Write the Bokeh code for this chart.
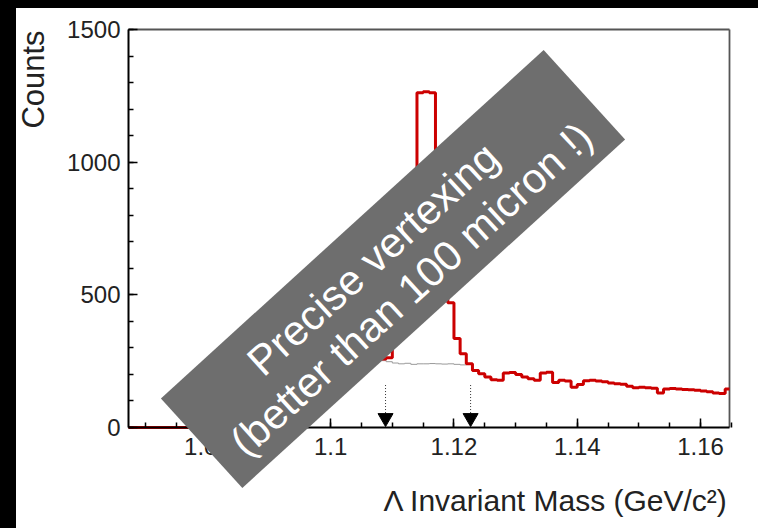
import math
import numpy as np
from bokeh.plotting import figure
from bokeh.models import (FixedTicker, CustomJSTickFormatter, Label,
                          PolyAnnotation, Range1d)
from bokeh.embed import file_html
from bokeh.resources import INLINE

# ---------------- data ----------------
bin_start = 1.067
bin_width = 0.001
counts = [
    0, 0, 0, 0, 0, 0, 0, 0, 0, 0,                      # 1.067-1.076
    0, 3, 15, 35, 55, 75, 95, 110, 125, 140,           # 1.077-1.086
    150, 160, 170, 180, 185, 195, 200, 205, 212, 218,  # 1.087-1.096
    222, 228, 232, 236, 240, 242, 245, 248, 250, 252,  # 1.097-1.106
    255, 258, 263, 350, 350, 500, 850, 1262, 1265, 1262,  # 1.107-1.116
    900, 650, 470, 335, 278, 240, 215, 203, 190, 180,  # 1.117-1.126
    178, 205, 207, 200, 190, 184, 178, 205, 208, 170,  # 1.127-1.136
    178, 175, 152, 162, 176, 178, 175, 172, 168, 165,  # 1.137-1.146
    163, 155, 150, 152, 150, 148, 130, 145, 147, 145,  # 1.147-1.156
    143, 142, 140, 138, 135, 130, 128, 145,            # 1.157-1.164
]

bg_start = 1.105
bg_counts = [250, 252, 255, 252, 248, 243, 240, 242, 238, 240,
             240, 241, 240, 239, 240, 238, 236]

arrow_x = [1.1089, 1.1227]
arrow_top = [160, 160]
arrow_bottom = [52, 52]
arrow_head = [36, 36]

x_lo, x_hi = 1.0672, 1.1647
y_lo, y_hi = 0, 1500
x_major = [1.08, 1.10, 1.12, 1.14, 1.16]
x_minor = [round(1.07 + 0.005 * i, 3) for i in range(20)]
y_major = [0, 500, 1000, 1500]
y_minor = list(range(0, 1501, 100))

x_title = "\u039b Invariant Mass (GeV/c\u00b2)"
y_title = "Counts"
banner_lines = ["Precise vertexing", "(better than 100 micron !)"]

FONT = "Liberation Sans"

# ---------------- layout (pixels inside the figure) ----------------
W, H = 742, 520
PL, PR, PT, PB = 112, 713, 21, 419          # plot box edges
sx = (PR - PL) / (x_hi - x_lo)
sy = (PB - PT) / (y_hi - y_lo)
xr = Range1d(x_lo - PL / sx, x_hi + (W - PR) / sx)
yr = Range1d(y_lo - (H - PB) / sy, y_hi + PT / sy)

edges = np.round(bin_start + bin_width * np.arange(len(counts) + 1), 4)
edges[0] = max(edges[0], x_lo)
edges[-1] = min(edges[-1], x_hi)
step_y = counts + [counts[-1]]
bg_edges = np.round(bg_start + bin_width * np.arange(len(bg_counts) + 1), 4)
bg_y = bg_counts + [bg_counts[-1]]

# ---------------- figure ----------------
p = figure(frame_width=W, frame_height=H, x_range=xr, y_range=yr,
           output_backend="svg", toolbar_location=None,
           min_border=0)
p.margin = (8, 0, 0, 16)
p.styles = {"box-shadow": "-16px 0 0 0 black, 0 -8px 0 0 black, -16px -8px 0 0 black"}
p.background_fill_color = "white"
p.border_fill_color = "white"
p.outline_line_color = None
p.xgrid.visible = False
p.ygrid.visible = False

for ax in (p.xaxis[0], p.yaxis[0]):
    ax.axis_line_color = "black"
    ax.axis_line_width = 2
    ax.major_tick_line_color = "black"
    ax.minor_tick_line_color = "black"
    ax.major_tick_line_width = 1.5
    ax.minor_tick_line_width = 1.5
    ax.major_tick_in = 9
    ax.major_tick_out = 0
    ax.minor_tick_in = 5
    ax.minor_tick_out = 0
    ax.major_label_text_font = FONT
    ax.major_label_text_font_size = "24px"
    ax.major_label_text_color = "#222222"

p.xaxis.fixed_location = y_lo
p.xaxis.bounds = (x_lo, x_hi)
p.xaxis.ticker = FixedTicker(ticks=x_major, minor_ticks=x_minor)
p.xaxis.formatter = CustomJSTickFormatter(
    code="return (Math.round(tick*1000)/1000).toString();")
p.xaxis.major_label_standoff = 10
p.yaxis.fixed_location = x_lo
p.yaxis.bounds = (y_lo, y_hi)
p.yaxis.ticker = FixedTicker(ticks=y_major, minor_ticks=y_minor)
p.yaxis.major_label_standoff = 8

# top / right frame border
p.segment(x0=[x_lo, x_hi], y0=[y_hi, y_lo], x1=[x_hi, x_hi], y1=[y_hi, y_hi],
          line_color="#555555", line_width=1.8)

# background (gray) histogram
p.step(x=bg_edges, y=bg_y, mode="after", line_color="#9a9a9a", line_width=1)

# arrows
p.segment(x0=arrow_x, y0=arrow_top, x1=arrow_x, y1=arrow_bottom,
          line_color="#333333", line_width=1, line_dash="1 2")
p.scatter(x=arrow_x, y=arrow_head, marker="inverted_triangle", size=15,
          fill_color="black", line_color="black")

# main histogram (drawn over the axis line like in the original)
p.step(x=edges, y=step_y, mode="after", line_color="#cc0000", line_width=3,
       level="guide")

# axis titles (screen units: from figure bottom-left, y up)
p.add_layout(Label(x=17, y=H - 71, x_units="screen", y_units="screen",
                   text=y_title, angle=math.pi / 2, text_align="center",
                   text_baseline="middle", text_font=FONT,
                   text_font_size="31px", text_color="#222222"))
p.add_layout(Label(x=PR - 1, y=H - 492, x_units="screen", y_units="screen",
                   text=x_title, text_align="right", text_baseline="middle",
                   text_font=FONT, text_font_size="30px", text_color="#222222"))

# diagonal banner
ang = math.radians(42.3)
cx, cy = 376.5, H - 260.5
hl, hh = 258.75, 60.5
u = (math.cos(ang), math.sin(ang))
n = (math.sin(ang), -math.cos(ang))
corners = [(-1, 1), (1, 1), (1, -1), (-1, -1)]
xs = [cx + a * hl * u[0] - b * hh * n[0] for a, b in corners]
ys = [cy + a * hl * u[1] - b * hh * n[1] for a, b in corners]
p.add_layout(PolyAnnotation(xs=xs, ys=ys, xs_units="screen", ys_units="screen",
                            fill_color="#6e6e6e", fill_alpha=1.0,
                            line_color=None))
for along, perp, txt in zip([-8, 0], [-21, 27], banner_lines):
    p.add_layout(Label(x=cx + along * u[0] + perp * n[0],
                       y=cy + along * u[1] + perp * n[1],
                       x_units="screen", y_units="screen", text=txt,
                       angle=ang, text_align="center", text_baseline="middle",
                       text_font=FONT, text_font_size="42px",
                       text_color="white"))

open("out.html", "w").write(file_html(p, INLINE))
